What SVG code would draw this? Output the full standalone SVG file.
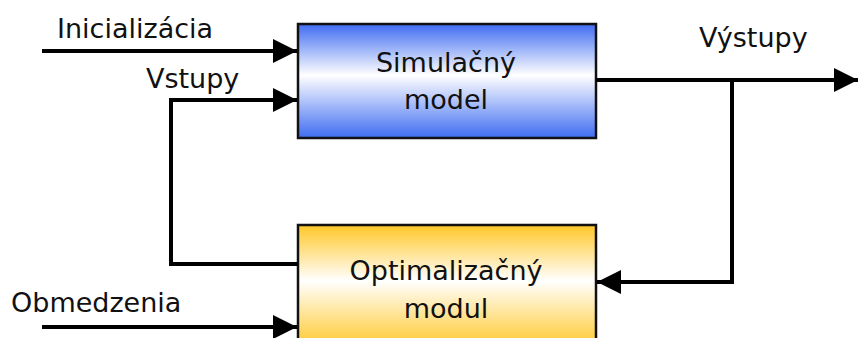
<svg xmlns="http://www.w3.org/2000/svg" width="858" height="338" viewBox="0 0 858 338">
<style>
.t{font-family:"DejaVu Sans","Liberation Sans",sans-serif;font-size:27px;fill:#111}
.c{text-anchor:middle}
.ln{fill:none;stroke:#000;stroke-width:4}
.box{stroke:#111;stroke-width:2.5}
</style>
<defs>
<linearGradient id="gb" x1="0" y1="0" x2="0" y2="1">
<stop offset="0" stop-color="#3f6cf2"/>
<stop offset="0.45" stop-color="#ffffff"/>
<stop offset="1" stop-color="#3f6cf2"/>
</linearGradient>
<linearGradient id="gy" x1="0" y1="0" x2="0" y2="1">
<stop offset="0" stop-color="#ffc727"/>
<stop offset="0.45" stop-color="#ffffff"/>
<stop offset="1" stop-color="#ffc727"/>
</linearGradient>
<marker id="ah" markerUnits="userSpaceOnUse" markerWidth="26" markerHeight="26" refX="24" refY="12" orient="auto">
<path d="M0,0 L24,12 L0,24 Z" fill="#000"/>
</marker>
</defs>
<g id="sim">
<rect class="box" x="298" y="24" width="298" height="114" fill="url(#gb)"/>
<text class="t c" x="446" y="72">Simulačný</text>
<text class="t c" x="446" y="109">model</text>
</g>
<g id="opt">
<rect class="box" x="298" y="225" width="298" height="124" fill="url(#gy)"/>
<text class="t c" x="446" y="280">Optimalizačný</text>
<text class="t c" x="446" y="318">modul</text>
</g>
<g id="connectors">
<line class="ln" x1="42" y1="51" x2="297" y2="51" marker-end="url(#ah)"/>
<polyline class="ln" points="298,264 171,264 171,100 297,100" marker-end="url(#ah)"/>
<line class="ln" x1="42" y1="327" x2="297" y2="327" marker-end="url(#ah)"/>
<line class="ln" x1="596" y1="80" x2="858" y2="80" marker-end="url(#ah)"/>
<polyline class="ln" points="732,80 732,282 597,282" marker-end="url(#ah)"/>
</g>
<g id="labels">
<text class="t" x="57" y="38">Inicializácia</text>
<text class="t" x="146" y="88">Vstupy</text>
<text class="t" x="699" y="47">Výstupy</text>
<text class="t" x="11" y="312">Obmedzenia</text>
</g>
</svg>
